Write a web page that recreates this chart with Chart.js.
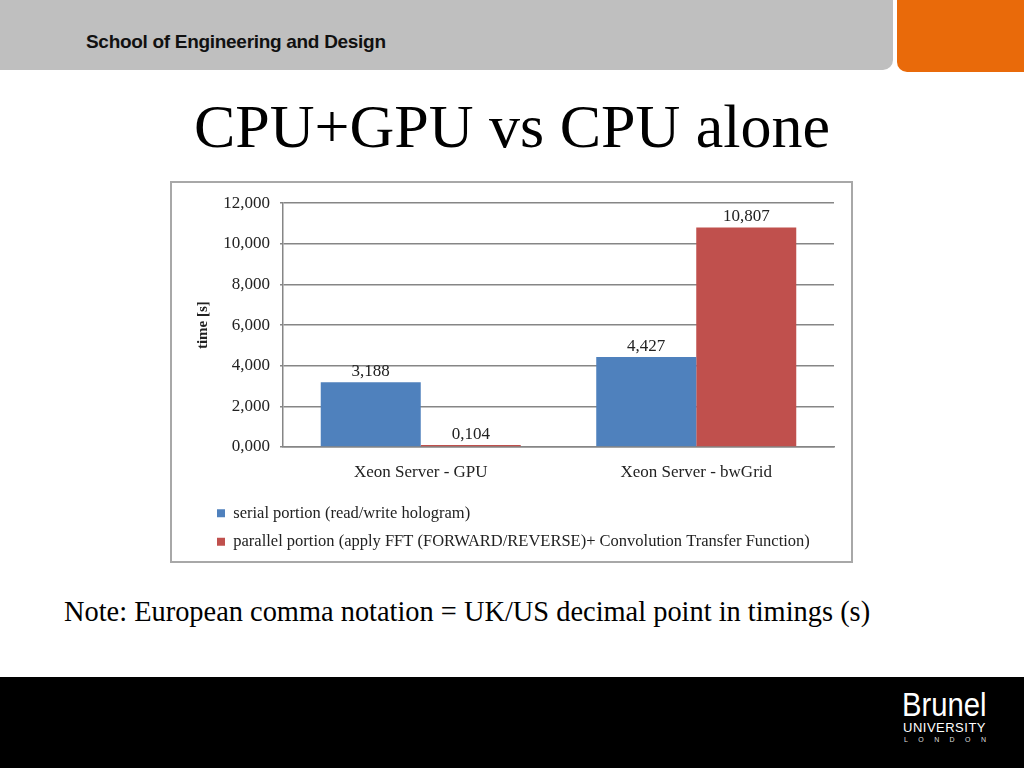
<!DOCTYPE html>
<html>
<head>
<meta charset="utf-8">
<script src="https://cdn.jsdelivr.net/npm/chart.js@4"></script>
<style>
    body { margin: 0; width: 1024px; height: 768px; overflow: hidden; background: #ffffff; position: relative; }
    .header-bar { position: absolute; left: 0; top: 0; width: 893px; height: 70px; background: #bfbfbf; border-bottom-right-radius: 10px; }
    .header-orange { position: absolute; left: 897px; top: 0; width: 127px; height: 72px; background: #e96a0a; border-bottom-left-radius: 10px; }
    .school { position: absolute; left: 86px; top: 31px; font: bold 19px "Liberation Sans", Arial, sans-serif; color: #111; letter-spacing: -0.3px; }
    .title { position: absolute; left: 0; width: 1024px; top: 91px; text-align: center; font: 62px "Liberation Serif", "Times New Roman", serif; color: #000; }
    .chart-box { position: absolute; left: 170px; top: 181px; width: 679px; height: 378px; border: 2px solid #a8a8a8; }
    .note { position: absolute; left: 64px; top: 596px; font: 28.4px "Liberation Serif", "Times New Roman", serif; color: #000; }
    .footer { position: absolute; left: 0; top: 677px; width: 1024px; height: 91px; background: #000; }
    .logo1 { position: absolute; left: 902px; top: 685px; font: 34px "Liberation Sans", sans-serif; color: #fff; transform: scaleX(0.86); transform-origin: left top; }
    .logo2 { position: absolute; left: 903px; top: 720px; font: 13px "Liberation Sans", sans-serif; color: #fff; letter-spacing: 0.5px; }
    .logo3 { position: absolute; left: 904px; top: 736px; font: 7px "Liberation Sans", sans-serif; color: #ddd; letter-spacing: 10.4px; }
</style>
</head>
<body>
<div class="header-bar"></div>
<div class="header-orange"></div>
<div class="school">School of Engineering and Design</div>
<div class="title">CPU+GPU vs CPU alone</div>
<div class="chart-box"><canvas id="bar-chart" width="679" height="378"></canvas></div>
<div class="note">Note: European comma notation = UK/US decimal point in timings (s)</div>
<div class="footer"></div>
<div class="logo1">Brunel</div>
<div class="logo2">UNIVERSITY</div>
<div class="logo3">LONDON</div>

<script>
const categories = ['Xeon Server - GPU', 'Xeon Server - bwGrid'];
const serialTimes = [3.188, 4.427];
const parallelTimes = [0.104, 10.807];
const seriesNames = [
    'serial portion (read/write hologram)',
    'parallel portion (apply FFT (FORWARD/REVERSE)+ Convolution Transfer Function)'
];
const yTicks = [0, 2, 4, 6, 8, 10, 12];

const serif = '"Liberation Serif", "Times New Roman", serif';

// comma as decimal separator, like the original
function euro(v) {
    return Number(v).toFixed(3).replace('.', ',');
}

// values written above each bar
const barValues = {
    id: 'barValues',
    afterDatasetsDraw(chart) {
        const ctx = chart.ctx;
        ctx.save();
        ctx.font = '17px ' + serif;
        ctx.fillStyle = '#222';
        ctx.textAlign = 'center';
        ctx.textBaseline = 'bottom';
        chart.data.datasets.forEach((ds, i) => {
            chart.getDatasetMeta(i).data.forEach((bar, j) => {
                ctx.fillText(euro(ds.data[j]), bar.x, bar.y - 2);
            });
        });
        ctx.restore();
    }
};

document.addEventListener('DOMContentLoaded', function() {
    const ctx = document.getElementById('bar-chart').getContext('2d');
    new Chart(ctx, {
        type: 'bar',
        data: {
            labels: categories,
            datasets: [{
                label: seriesNames[0],
                data: serialTimes,
                backgroundColor: '#4f81bd',
                borderWidth: 0
            }, {
                label: seriesNames[1],
                data: parallelTimes,
                backgroundColor: '#c0504d',
                borderWidth: 0
            }]
        },
        options: {
            responsive: false,
            animation: false,
            datasets: {
                bar: { barPercentage: 1, categoryPercentage: 0.726 }
            },
            layout: {
                padding: { top: 13, right: 17, left: 33, bottom: 1 }
            },
            scales: {
                x: {
                    grid: { display: false },
                    border: { display: true, color: '#868686', width: 1.5 },
                    ticks: { color: '#222', font: { family: serif, size: 17 }, padding: 7 },
                    afterFit: function(scale) { scale.height = 46; }
                },
                y: {
                    min: 0,
                    max: 12,
                    afterBuildTicks: function(scale) {
                        scale.ticks = yTicks.map(v => ({ value: v }));
                    },
                    ticks: {
                        color: '#222',
                        font: { family: serif, size: 17 },
                        padding: 10,
                        callback: function(value) { return euro(value); }
                    },
                    grid: { color: '#868686', lineWidth: 1.5, tickLength: 3 },
                    border: { display: true, color: '#868686', width: 1.5 },
                    title: {
                        display: true,
                        text: 'time [s]',
                        color: '#222',
                        font: { family: serif, size: 15, weight: 'bold' },
                        padding: { top: -11, bottom: 0 }
                    },
                    afterFit: function(scale) { scale.width = 78; }
                }
            },
            plugins: {
                legend: {
                    position: 'bottom',
                    align: 'start',
                    labels: {
                        boxWidth: 8,
                        boxHeight: 8,
                        padding: 12,
                        color: '#222',
                        font: { family: serif, size: 16.5 }
                    }
                },
                tooltip: { enabled: false }
            }
        },
        plugins: [barValues]
    });
});
</script>
</body>
</html>
